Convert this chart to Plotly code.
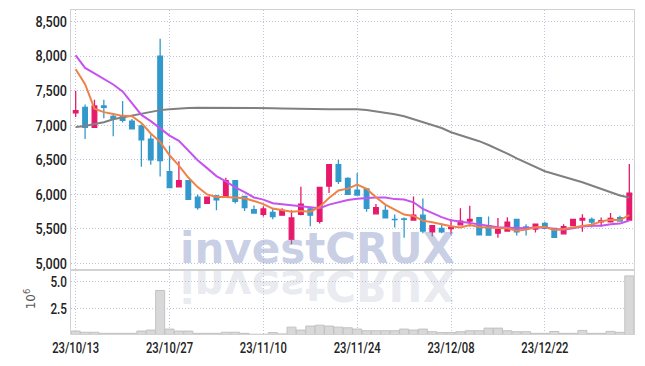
import plotly.graph_objects as go

# ---------------- data ----------------
dates = [
    "2023-10-13", "2023-10-16", "2023-10-17", "2023-10-18", "2023-10-19", "2023-10-20",
    "2023-10-23", "2023-10-24", "2023-10-25", "2023-10-26", "2023-10-27",
    "2023-10-30", "2023-10-31", "2023-11-01", "2023-11-02", "2023-11-03",
    "2023-11-06", "2023-11-07", "2023-11-08", "2023-11-09", "2023-11-10",
    "2023-11-13", "2023-11-14", "2023-11-15", "2023-11-16", "2023-11-17",
    "2023-11-20", "2023-11-21", "2023-11-22", "2023-11-23", "2023-11-24",
    "2023-11-27", "2023-11-28", "2023-11-29", "2023-11-30", "2023-12-01",
    "2023-12-04", "2023-12-05", "2023-12-06", "2023-12-07", "2023-12-08",
    "2023-12-11", "2023-12-12", "2023-12-13", "2023-12-14", "2023-12-15",
    "2023-12-18", "2023-12-19", "2023-12-20", "2023-12-21", "2023-12-22",
    "2023-12-26", "2023-12-27", "2023-12-28",
    "2024-01-02", "2024-01-03", "2024-01-04", "2024-01-05",
    "2024-01-08", "2024-01-09",
]

open_ = [7180, 7260, 6970, 7280, 7130, 7130, 7060, 6990, 6800, 8000,
         6330, 6110, 6200, 5960, 5870, 5980, 5970, 6200, 5970, 5780,
         5710, 5740, 5700, 5350, 5710, 5790, 5610, 6120, 6430, 6230,
         6060, 6080, 5720, 5770, 5640, 5645, 5630, 5700, 5460, 5510,
         5505, 5560, 5615, 5665, 5550, 5440, 5470, 5640, 5530, 5500,
         5580, 5510, 5430, 5550, 5630, 5640, 5605, 5605, 5665, 5630]
high = [7500, 7300, 7370, 7370, 7150, 7350, 7090, 7010, 6870, 8250,
        6700, 6480, 6210, 6000, 5960, 5990, 6240, 6210, 5975, 5840,
        5830, 5800, 5800, 5770, 6110, 5810, 6110, 6440, 6500, 6250,
        6310, 6080, 5860, 5840, 5710, 5665, 5970, 5940, 5555, 5580,
        5640, 5800, 5835, 5670, 5680, 5660, 5670, 5645, 5570, 5580,
        5605, 5515, 5570, 5645, 5715, 5665, 5665, 5730, 5690, 6440]
low = [7120, 6800, 6960, 7100, 6840, 7040, 6940, 6400, 6430, 6260,
       6100, 6100, 5930, 5780, 5860, 5770, 5960, 5870, 5760, 5720,
       5680, 5640, 5690, 5280, 5700, 5540, 5580, 6020, 6150, 5990,
       5990, 5750, 5710, 5650, 5520, 5375, 5630, 5440, 5390, 5440,
       5420, 5555, 5535, 5410, 5405, 5375, 5460, 5405, 5405, 5450,
       5500, 5375, 5425, 5545, 5460, 5520, 5535, 5600, 5610, 5630]
close = [7210, 6970, 7280, 7260, 7100, 7070, 6950, 6790, 6500, 6490,
         6100, 6200, 5930, 5810, 5960, 5920, 6200, 5900, 5810, 5730,
         5790, 5680, 5770, 5660, 5860, 5700, 6100, 6430, 6190, 6000,
         5990, 5800, 5810, 5660, 5635, 5640, 5700, 5470, 5550, 5460,
         5520, 5615, 5640, 5415, 5410, 5490, 5600, 5460, 5510, 5570,
         5510, 5380, 5535, 5640, 5655, 5600, 5620, 5655, 5615, 6020]

ma5 = [7810, 7595, 7240, 7190, 7164, 7136, 7132, 7034, 6882, 6760,
       6566, 6416, 6244, 6106, 6000, 5964, 5964, 5958, 5945, 5905,
       5860, 5795, 5775, 5750, 5760, 5750, 5818, 5950, 6056, 6084,
       6142, 6082, 5958, 5852, 5779, 5709, 5689, 5621, 5599, 5564,
       5540, 5523, 5557, 5530, 5520, 5514, 5511, 5475, 5494, 5526,
       5530, 5486, 5501, 5527, 5544, 5562, 5610, 5634, 5629, 5702]
ma10 = [8010, 7830, 7750, 7670, 7590, 7490, 7320, 7150, 7060, 6962,
        6851, 6774, 6639, 6494, 6380, 6265, 6190, 6101, 6032, 5956,
        5925, 5873, 5857, 5842, 5832, 5810, 5800, 5853, 5891, 5918,
        5938, 5950, 5954, 5954, 5932, 5926, 5886, 5790, 5726, 5672,
        5625, 5606, 5589, 5565, 5542, 5527, 5517, 5516, 5512, 5523,
        5522, 5499, 5488, 5511, 5535, 5546, 5548, 5568, 5578, 5623]
ma60 = [6976, 6990, 7019, 7043, 7086, 7114, 7143, 7171, 7195, 7219,
        7233, 7243, 7248, 7252, 7252, 7254, 7255, 7255, 7254, 7252,
        7250, 7247, 7243, 7240, 7235, 7230, 7228, 7230, 7233, 7233,
        7230, 7222, 7205, 7185, 7160, 7130, 7086, 7045, 7005, 6960,
        6900, 6860, 6810, 6770, 6715, 6655, 6590, 6520, 6455, 6395,
        6335, 6295, 6250, 6215, 6175, 6125, 6075, 6025, 5985, 5955]

volume_m = [0.44, 0.33, 0.33, 0.23, 0.23, 0.23, 0.23, 0.44, 0.53, 4.16,
            0.62, 0.44, 0.44, 0.23, 0.23, 0.23, 0.33, 0.33, 0.23, 0.15,
            0.15, 0.30, 0.18, 0.80, 0.53, 0.90, 0.98, 0.90, 0.80, 0.74,
            0.62, 0.47, 0.47, 0.47, 0.47, 0.62, 0.53, 0.62, 0.38, 0.30,
            0.30, 0.38, 0.47, 0.47, 0.71, 0.71, 0.47, 0.38, 0.38, 0.23,
            0.23, 0.40, 0.23, 0.23, 0.50, 0.23, 0.23, 0.41, 0.32, 5.50]

tick_dates = ["2023-10-13", "2023-10-27", "2023-11-10", "2023-11-24", "2023-12-08", "2023-12-22"]
tick_labels = ["23/10/13", "23/10/27", "23/11/10", "23/11/24", "23/12/08", "23/12/22"]
price_ticks = [5000, 5500, 6000, 6500, 7000, 7500, 8000, 8500]
volume_ticks = [2.5, 5.0]

# ---------------- style ----------------
UP = "#e6196b"
DOWN = "#3399cc"
GRID = "#bfc4da"
GRIDDASH = "1px,2px"
BORDER = "#d2d2d2"
TICKFONT = dict(family="Roboto, sans-serif", size=15, color="#222222", weight=500)
SPLIT = 0.19817

fig = go.Figure()
fig.add_trace(go.Candlestick(
    x=dates, open=open_, high=high, low=low, close=close,
    xaxis="x", yaxis="y", whiskerwidth=0,
    increasing=dict(line=dict(color=UP, width=1.3), fillcolor=UP),
    decreasing=dict(line=dict(color=DOWN, width=1.3), fillcolor=DOWN),
))
fig.add_trace(go.Scatter(x=dates, y=ma60, mode="lines", xaxis="x", yaxis="y",
                         line=dict(color="#808080", width=2)))
fig.add_trace(go.Scatter(x=dates, y=ma10, mode="lines", xaxis="x", yaxis="y",
                         line=dict(color="#c653f0", width=2)))
fig.add_trace(go.Scatter(x=dates, y=ma5, mode="lines", xaxis="x", yaxis="y",
                         line=dict(color="#ee8247", width=2)))
fig.add_trace(go.Bar(x=dates, y=volume_m, xaxis="x2", yaxis="y2",
                     marker=dict(color="#d8d8d8", line=dict(color="#c2c2c2", width=1))))

xcommon = dict(type="category", categoryorder="array", categoryarray=dates,
               range=[-0.5, len(dates) - 0.5], tickvals=tick_dates, ticktext=tick_labels,
               showgrid=True, gridcolor=GRID, griddash=GRIDDASH, gridwidth=1,
               showline=True, mirror=True, linecolor=BORDER, linewidth=1,
               ticks="", tickfont=TICKFONT, zeroline=False)

fig.update_layout(
    width=645, height=366,
    margin=dict(l=71, r=11, t=9, b=29),
    paper_bgcolor="white", plot_bgcolor="white",
    showlegend=False, bargap=0.04,
    xaxis=dict(xcommon, anchor="y", showticklabels=False, rangeslider=dict(visible=False)),
    xaxis2=dict(xcommon, anchor="y2", showticklabels=True),
    yaxis=dict(domain=[SPLIT, 1], range=[4910, 8667], tickvals=price_ticks, tickformat=",",
               showgrid=True, gridcolor=GRID, griddash=GRIDDASH, gridwidth=1,
               showline=True, mirror=True, linecolor=BORDER, linewidth=1,
               ticks="", tickfont=TICKFONT, zeroline=False),
    yaxis2=dict(domain=[0, SPLIT], range=[0.17, 6.06], tickvals=volume_ticks, tickformat=".1f",
                showgrid=True, gridcolor=GRID, griddash=GRIDDASH, gridwidth=1,
                showline=True, mirror=True, linecolor=BORDER, linewidth=1,
                ticks="", tickfont=TICKFONT, zeroline=False),
    annotations=[
        dict(text="<b>investCRUX</b>", xref="paper", yref="paper", x=0.4378, y=0.2652,
             xanchor="center", yanchor="middle", showarrow=False,
             font=dict(family="DejaVu Sans", size=42, color="rgba(140,156,200,0.48)")),
        dict(text="<b>investCRUX</b>", xref="paper", yref="paper", x=0.4378, y=0.2652,
             xanchor="center", yanchor="middle", showarrow=False,
             font=dict(family="DejaVu Sans", size=42, color="rgba(160,166,195,0.24)")),
        dict(text="10<sup>6</sup>", xref="paper", yref="paper", x=-0.0728, y=0.107,
             xanchor="center", yanchor="middle", showarrow=False, textangle=-90,
             font=dict(family="DejaVu Sans", size=12, color="#555555")),
    ],
)

post = """
document.body.style.margin = '0';
document.body.style.padding = '0';
var gd = document.getElementById('{plot_id}');
function squeeze(sel, f) {
  gd.querySelectorAll(sel).forEach(function (t) {
    var w = t.getComputedTextLength();
    if (w > 0) {
      t.setAttribute('textLength', (w * f).toFixed(1));
      t.setAttribute('lengthAdjust', 'spacingAndGlyphs');
    }
  });
}
squeeze('g.ytick text', 0.84);
squeeze('g.y2tick text', 0.78);
squeeze('g.x2tick text', 0.75);
var t = gd.querySelector('.annotation[data-index="1"] text.annotation-text');
if (t) {
  var yb = parseFloat(t.getAttribute('y')) || 0;
  t.setAttribute('transform', 'translate(0,' + (2 * (yb + 4)) + ') scale(1,-1)');
}
"""

fig.write_html("out.html", post_script=post, config={"displayModeBar": False})
